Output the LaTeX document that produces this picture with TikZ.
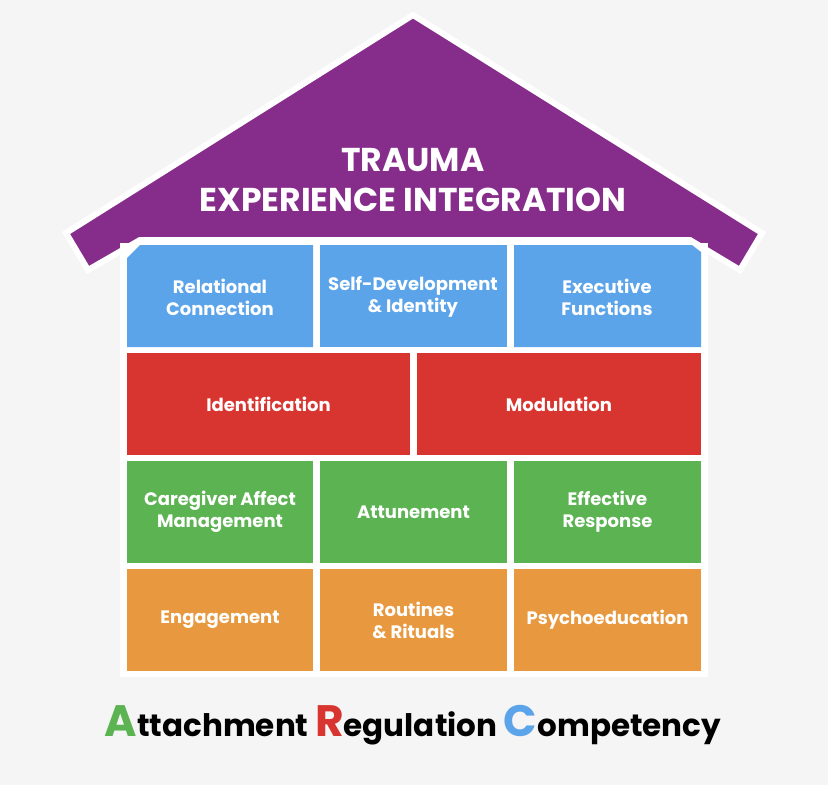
\documentclass[tikz,border=0pt]{standalone}
\usepackage{fontspec}
\setmainfont{Poppins}
\definecolor{bg}{HTML}{F5F5F5}
\definecolor{roof}{HTML}{862C8A}
\definecolor{cb}{HTML}{5BA4EA}
\definecolor{cr}{HTML}{D93530}
\definecolor{cg}{HTML}{5BB352}
\definecolor{co}{HTML}{E8993F}
\begin{document}
\begin{tikzpicture}[x=1pt,y=-1pt,
  cell/.style={draw=none,text=white,font=\fontsize{18}{22}\selectfont\bfseries,align=center},
]
\fill[bg] (0,0) rectangle (828,785);
\useasboundingbox (0,0) rectangle (828,785);
% white frame
\fill[white] (120,238) rectangle (708,677);
% roof
\draw[white,line width=6pt,line join=miter,fill=roof] (66,233) -- (413,15) -- (762,233) -- (740,270) -- (690,240) -- (140,240) -- (88,270) -- cycle;
\fill[white] (120,243) rectangle (708,250);
% cells
\newcommand{\cellbox}[6]{\fill[#5] (#1,#2) rectangle (#3,#4); \node[cell] (#6) at ({(#1+#3)/2},{(#2+#4)/2})}
\fill[cb] (140,245) -- (313,245) -- (313,347) -- (127,347) -- (127,258) -- cycle;
\node[cell] (rc) at (220,297) {Relational\\Connection};
\fill[cb] (320,245) rectangle (507,347);
\node[cell] (sd) at (413,297) {Self-Development\\\& Identity};
\fill[cb] (514,245) -- (692,245) -- (701,252) -- (701,347) -- (514,347) -- cycle;
\node[cell] (ef) at (607,297) {Executive\\Functions};
\cellbox{127}{353}{410}{455}{cr}{id} {Identification};
\cellbox{417}{353}{701}{455}{cr}{mo} {Modulation};
\cellbox{127}{461}{313}{563}{cg}{ca} {Caregiver Affect\\Management};
\cellbox{320}{461}{507}{563}{cg}{at} {Attunement};
\cellbox{514}{461}{701}{563}{cg}{er} {Effective\\Response};
\cellbox{127}{569}{313}{671}{co}{en} {Engagement};
\cellbox{320}{569}{507}{671}{co}{rr} {Routines\\\& Rituals};
\cellbox{514}{569}{701}{671}{co}{ps} {Psychoeducation};
\node[text=white,font=\fontsize{33}{40}\selectfont\bfseries,align=center] (title) at (413,180) {TRAUMA\\EXPERIENCE INTEGRATION};
\node[font=\fontsize{31}{34}\selectfont\bfseries,anchor=base] (arc) at (413,736)
 {{\color{cg}\fontsize{44}{46}\selectfont A}ttachment {\color{cr}\fontsize{44}{46}\selectfont R}egulation {\color{cb}\fontsize{44}{46}\selectfont C}ompetency};
\end{tikzpicture}
\end{document}
